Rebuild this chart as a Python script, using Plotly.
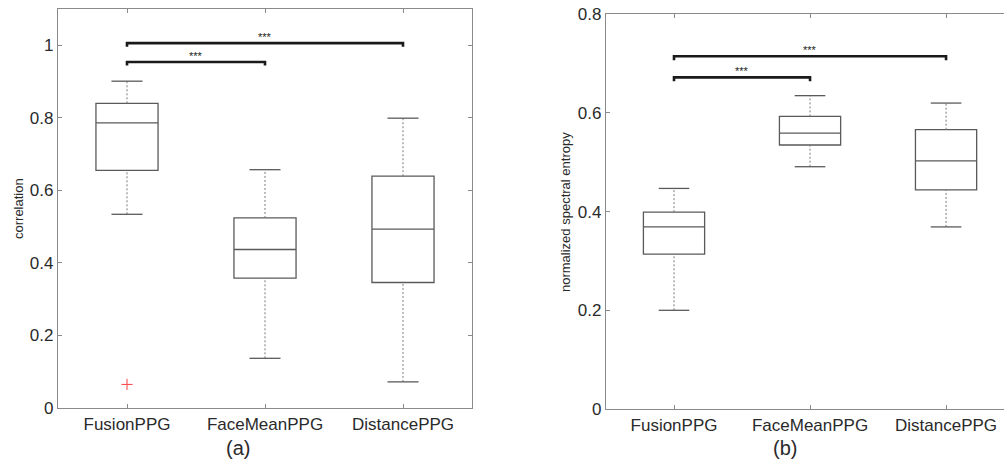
import plotly.graph_objects as go

categories = ["FusionPPG", "FaceMeanPPG", "DistancePPG"]
positions = [1, 2, 3]

# (a) correlation
corr_lower = [0.534, 0.137, 0.072]
corr_q1 = [0.655, 0.358, 0.346]
corr_median = [0.786, 0.437, 0.493]
corr_q3 = [0.840, 0.524, 0.639]
corr_upper = [0.901, 0.657, 0.799]
corr_outlier_x = [1]
corr_outlier_y = [0.065]

# (b) normalized spectral entropy
ent_lower = [0.200, 0.491, 0.369]
ent_q1 = [0.314, 0.535, 0.444]
ent_median = [0.369, 0.559, 0.503]
ent_q3 = [0.399, 0.593, 0.566]
ent_upper = [0.447, 0.635, 0.620]

# significance brackets
sig_from = [1, 1]
sig_to = [3, 2]
sig_a_y = [1.006, 0.954]
sig_b_y = [0.715, 0.672]
sig_label = "***"

FONT = "Liberation Sans, Arial, Helvetica, sans-serif"
BOX_COLOR = "#5a5a5a"
AXIS_COLOR = "#8a8a8a"
TEXT_COLOR = "#2a2a2a"
BOX_W = 0.45
CAP_W = 0.225

W, H = 1004, 470


def px_x(p):
    return p / W


def px_y(p):
    return 1 - p / H


fig = go.Figure()


def add_panel(xa, ya, lower, q1, med, q3, upper, sig_y, hook):
    xref = "x" if xa == 1 else "x2"
    yref = "y" if ya == 1 else "y2"
    fig.add_trace(go.Box(
        x=positions, q1=q1, median=med, q3=q3, lowerfence=q1, upperfence=q3,
        width=BOX_W, whiskerwidth=0, boxpoints=False,
        line=dict(color=BOX_COLOR, width=1.3), fillcolor="rgba(0,0,0,0)",
        xaxis=xref, yaxis=yref, showlegend=False, hoverinfo="skip"))
    # dashed whiskers and caps
    wx, wy = [], []
    cx, cy = [], []
    for p, lo, a, b, hi in zip(positions, lower, q1, q3, upper):
        wx += [p, p, None, p, p, None]
        wy += [lo, a, None, b, hi, None]
        cx += [p - CAP_W / 2, p + CAP_W / 2, None, p - CAP_W / 2, p + CAP_W / 2, None]
        cy += [lo, lo, None, hi, hi, None]
    fig.add_trace(go.Scatter(x=wx, y=wy, mode="lines",
                             line=dict(color="#7a7a7a", width=1, dash="2px,2px"),
                             xaxis=xref, yaxis=yref, showlegend=False, hoverinfo="skip"))
    fig.add_trace(go.Scatter(x=cx, y=cy, mode="lines",
                             line=dict(color=BOX_COLOR, width=1.3),
                             xaxis=xref, yaxis=yref, showlegend=False, hoverinfo="skip"))
    # significance brackets
    bx, by = [], []
    for f, t, yv in zip(sig_from, sig_to, sig_y):
        bx += [f, f, t, t, None]
        by += [yv - hook, yv, yv, yv - hook, None]
        fig.add_annotation(x=(f + t) / 2, y=yv, xref=xref, yref=yref, text=sig_label,
                           showarrow=False, xanchor="center", yanchor="bottom", yshift=-2,
                           font=dict(family=FONT, size=11, color="#222"))
    fig.add_trace(go.Scatter(x=bx, y=by, mode="lines",
                             line=dict(color="#1a1a1a", width=2.6),
                             xaxis=xref, yaxis=yref, showlegend=False, hoverinfo="skip"))


add_panel(1, 1, corr_lower, corr_q1, corr_median, corr_q3, corr_upper, sig_a_y, 0.010)
fig.add_trace(go.Scatter(x=corr_outlier_x, y=corr_outlier_y, mode="markers",
                         marker=dict(symbol="cross-thin", size=8,
                                     line=dict(color="#ff4040", width=1)),
                         showlegend=False, hoverinfo="skip"))
add_panel(2, 2, ent_lower, ent_q1, ent_median, ent_q3, ent_upper, sig_b_y, 0.008)

axis_common = dict(showline=True, linecolor=AXIS_COLOR, linewidth=1.3,
                   ticks="inside", ticklen=4, tickcolor=AXIS_COLOR, tickwidth=1,
                   showgrid=False, zeroline=False, automargin=False,
                   ticklabeloverflow="allow",
                   tickfont=dict(family=FONT, size=17, color=TEXT_COLOR))

fig.update_layout(
    template="none",
    width=W, height=H, margin=dict(l=0, r=0, t=0, b=0, pad=0),
    paper_bgcolor="white", plot_bgcolor="white",
    xaxis=dict(domain=[px_x(58), px_x(472)], range=[0.5, 3.5],
               tickvals=positions, ticktext=categories, mirror="ticks", **axis_common),
    yaxis=dict(domain=[px_y(408), px_y(9)], range=[0, 1.1],
               tickvals=[0, 0.2, 0.4, 0.6, 0.8, 1], ticktext=["0", "0.2", "0.4", "0.6", "0.8", "1"],
               mirror="ticks", **axis_common),
    xaxis2=dict(domain=[px_x(606), 1.0], range=[0.5, 3.426], anchor="y2",
                tickvals=positions, ticktext=categories, mirror="ticks", **axis_common),
    yaxis2=dict(domain=[px_y(409), px_y(14)], range=[0, 0.8005], anchor="x2",
                tickvals=[0, 0.2, 0.4, 0.6, 0.8], ticktext=["0", "0.2", "0.4", "0.6", "0.8"],
                mirror=False, **axis_common),
)

fig.add_annotation(x=px_x(18), y=px_y(209), xref="paper", yref="paper",
                   xanchor="center", yanchor="middle",
                   text="correlation", textangle=-90, showarrow=False,
                   font=dict(family=FONT, size=13, color=TEXT_COLOR))
fig.add_annotation(x=px_x(565), y=px_y(212), xref="paper", yref="paper",
                   xanchor="center", yanchor="middle",
                   text="normalized spectral entropy", textangle=-90, showarrow=False,
                   font=dict(family=FONT, size=13, color=TEXT_COLOR))
fig.add_annotation(x=px_x(238), y=px_y(448), xref="paper", yref="paper",
                   xanchor="center", yanchor="middle",
                   text="(a)", showarrow=False,
                   font=dict(family=FONT, size=20, color=TEXT_COLOR))
fig.add_annotation(x=px_x(785), y=px_y(448), xref="paper", yref="paper",
                   xanchor="center", yanchor="middle",
                   text="(b)", showarrow=False,
                   font=dict(family=FONT, size=20, color=TEXT_COLOR))

fig.write_html("out.html",
               config={"displayModeBar": False},
               post_script="document.body.style.margin='0';document.body.style.overflow='hidden';")
